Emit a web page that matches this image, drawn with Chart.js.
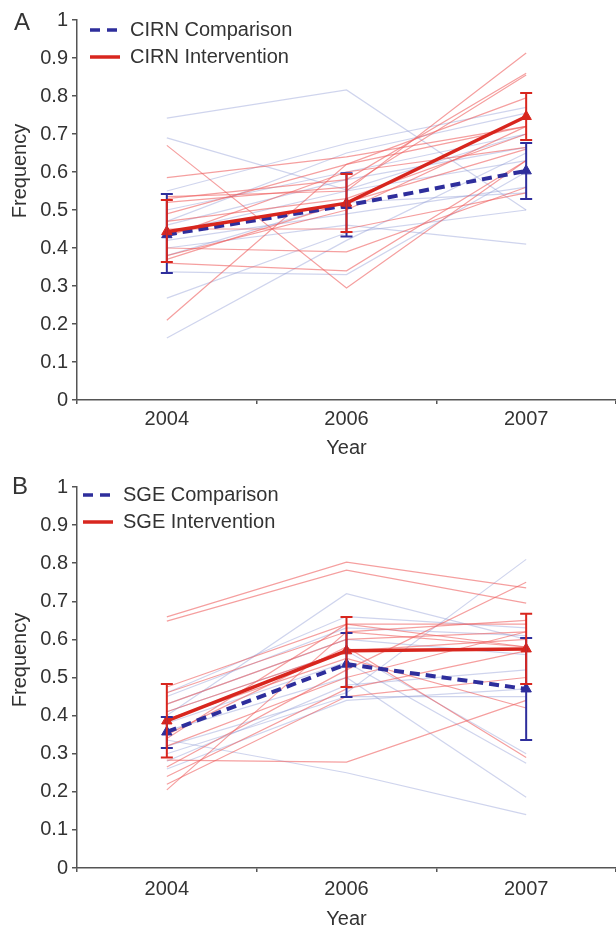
<!DOCTYPE html>
<html>
<head>
<meta charset="utf-8">
<script src="https://cdn.jsdelivr.net/npm/chart.js@4.4.1/dist/chart.umd.min.js"></script>
<style>
    body { margin: 0; overflow: hidden; background: #fff; }
    .panel { position: absolute; left: 0; }
</style>
</head>
<body>
<div class="panel" style="top:0"><canvas id="chartA" width="616" height="465"></canvas></div>
<div class="panel" style="top:463px"><canvas id="chartB" width="616" height="475"></canvas></div>
<script>
// 类别（年份）
const YEARS = ['2004', '2006', '2007'];

// A: CIRN 均值与误差线
const CIRN_COMP_MEAN = [0.435, 0.512, 0.603];
const CIRN_COMP_LOW = [0.334, 0.430, 0.529];
const CIRN_COMP_HIGH = [0.542, 0.597, 0.676];
const CIRN_INT_MEAN = [0.443, 0.518, 0.746];
const CIRN_INT_LOW = [0.363, 0.442, 0.684];
const CIRN_INT_HIGH = [0.526, 0.595, 0.808];

// A: 各单位细线
const CIRN_INT_LINES = [
    [0.67, 0.295, 0.63],
    [0.585, 0.64, 0.72],
    [0.535, 0.55, 0.913],
    [0.53, 0.58, 0.86],
    [0.52, 0.56, 0.855],
    [0.49, 0.62, 0.795],
    [0.47, 0.53, 0.70],
    [0.43, 0.60, 0.665],
    [0.40, 0.39, 0.56],
    [0.38, 0.50, 0.72],
    [0.36, 0.34, 0.63],
    [0.21, 0.62, 0.72],
    [0.45, 0.45, 0.545],
    [0.37, 0.52, 0.66]
];
const CIRN_COMP_LINES = [
    [0.742, 0.816, 0.50],
    [0.69, 0.553, 0.70],
    [0.55, 0.675, 0.77],
    [0.47, 0.65, 0.755],
    [0.46, 0.58, 0.665],
    [0.44, 0.55, 0.63],
    [0.42, 0.49, 0.56],
    [0.40, 0.46, 0.41],
    [0.38, 0.52, 0.545],
    [0.337, 0.33, 0.60],
    [0.268, 0.44, 0.50],
    [0.163, 0.42, 0.65],
    [0.50, 0.60, 0.70]
];

// B: SGE 均值与误差线
const SGE_COMP_MEAN = [0.357, 0.535, 0.470];
const SGE_COMP_LOW = [0.315, 0.449, 0.336];
const SGE_COMP_HIGH = [0.396, 0.617, 0.604];
const SGE_INT_MEAN = [0.386, 0.570, 0.575];
const SGE_INT_LOW = [0.290, 0.475, 0.483];
const SGE_INT_HIGH = [0.483, 0.659, 0.667];

// B: 各单位细线
const SGE_INT_LINES = [
    [0.659, 0.803, 0.735],
    [0.648, 0.782, 0.695],
    [0.475, 0.64, 0.64],
    [0.46, 0.62, 0.65],
    [0.43, 0.60, 0.62],
    [0.41, 0.57, 0.60],
    [0.39, 0.55, 0.42],
    [0.35, 0.58, 0.29],
    [0.32, 0.50, 0.62],
    [0.283, 0.278, 0.44],
    [0.265, 0.52, 0.75],
    [0.24, 0.47, 0.57],
    [0.22, 0.45, 0.50],
    [0.205, 0.62, 0.58],
    [0.34, 0.64, 0.58]
];
const SGE_COMP_LINES = [
    [0.40, 0.72, 0.60],
    [0.46, 0.66, 0.63],
    [0.45, 0.63, 0.61],
    [0.43, 0.60, 0.56],
    [0.41, 0.57, 0.30],
    [0.38, 0.54, 0.275],
    [0.36, 0.50, 0.186],
    [0.336, 0.25, 0.14],
    [0.32, 0.46, 0.81],
    [0.30, 0.45, 0.45],
    [0.28, 0.48, 0.52],
    [0.26, 0.44, 0.47]
];

// 颜色
const RED = '#d8261e';
const BLUE = '#2e2e9c';
const RED_LIGHT = 'rgba(238, 95, 95, 0.6)';
const BLUE_LIGHT = 'rgba(140, 152, 212, 0.42)';
const AXIS = '#555';
const FONT = "'Liberation Sans', Arial, sans-serif";

Chart.defaults.font.family = FONT;
Chart.defaults.font.size = 20;
Chart.defaults.color = '#333';

// 误差线、图例、标签
const panelDecor = {
    id: 'panelDecor',
    afterDatasetsDraw(chart, args, opts) {
        const ctx = chart.ctx;
        const xs = chart.scales.x;
        const ys = chart.scales.y;
        opts.bars.forEach(bar => {
            ctx.save();
            ctx.strokeStyle = bar.color;
            ctx.lineWidth = 2;
            bar.low.forEach((lo, i) => {
                const px = xs.getPixelForValue(i);
                const y1 = ys.getPixelForValue(lo);
                const y2 = ys.getPixelForValue(bar.high[i]);
                ctx.beginPath();
                ctx.moveTo(px, y1);
                ctx.lineTo(px, y2);
                ctx.moveTo(px - 6, y1);
                ctx.lineTo(px + 6, y1);
                ctx.moveTo(px - 6, y2);
                ctx.lineTo(px + 6, y2);
                ctx.stroke();
            });
            ctx.restore();
        });
    },
    afterDraw(chart, args, opts) {
        const ctx = chart.ctx;
        ctx.save();
        ctx.fillStyle = '#333';
        ctx.textBaseline = 'middle';

        // 面板字母
        ctx.font = `24px ${FONT}`;
        ctx.textAlign = 'center';
        ctx.fillText(opts.letter, opts.letterX, opts.letterY);

        // Y轴标题
        ctx.font = `20px ${FONT}`;
        ctx.save();
        ctx.translate(20, opts.titleY);
        ctx.rotate(-Math.PI / 2);
        ctx.fillText('Frequency', 0, 0);
        ctx.restore();

        // 图例
        ctx.textAlign = 'left';
        opts.legend.forEach((item, i) => {
            const y = opts.legendY + i * 27;
            ctx.save();
            ctx.strokeStyle = item.color;
            ctx.lineWidth = 3.5;
            ctx.setLineDash(item.dash);
            ctx.beginPath();
            ctx.moveTo(opts.legendX, y);
            ctx.lineTo(opts.legendX + 30, y);
            ctx.stroke();
            ctx.restore();
            ctx.fillText(item.text, opts.legendX + 40, y);
        });
        ctx.restore();
    }
};

// 细线数据集
function thinLine(values, color) {
    return {
        data: values,
        borderColor: color,
        borderWidth: 1.2,
        pointRadius: 0,
        tension: 0
    };
}

// 构建数据集（索引越小越靠上）
function buildDatasets(intMean, compMean, intLines, compLines) {
    const datasets = [
        {
            data: intMean,
            borderColor: RED,
            backgroundColor: RED,
            borderWidth: 3.5,
            pointStyle: 'triangle',
            pointRadius: 6,
            pointBorderWidth: 1,
            tension: 0
        },
        {
            data: compMean,
            borderColor: BLUE,
            backgroundColor: BLUE,
            borderWidth: 4,
            borderDash: [10, 6],
            pointStyle: 'triangle',
            pointRadius: 6,
            pointBorderWidth: 1,
            tension: 0
        }
    ];
    intLines.forEach(v => datasets.push(thinLine(v, RED_LIGHT)));
    compLines.forEach(v => datasets.push(thinLine(v, BLUE_LIGHT)));
    return datasets;
}

// 创建面板
function makePanel(canvasId, cfg) {
    const ctx = document.getElementById(canvasId).getContext('2d');
    return new Chart(ctx, {
        type: 'line',
        data: {
            labels: YEARS,
            datasets: buildDatasets(cfg.intMean, cfg.compMean, cfg.intLines, cfg.compLines)
        },
        options: {
            responsive: false,
            animation: false,
            layout: {
                autoPadding: false,
                padding: { top: cfg.top, left: 0, right: 0, bottom: 0 }
            },
            plugins: {
                legend: { display: false },
                tooltip: { enabled: false },
                panelDecor: {
                    bars: [
                        { low: cfg.compLow, high: cfg.compHigh, color: BLUE },
                        { low: cfg.intLow, high: cfg.intHigh, color: RED }
                    ],
                    letter: cfg.letter,
                    letterX: cfg.letterX,
                    letterY: cfg.letterY,
                    titleY: cfg.titleY,
                    legendX: cfg.legendX,
                    legendY: cfg.legendY,
                    legend: [
                        { text: cfg.compName, color: BLUE, dash: [10, 7] },
                        { text: cfg.intName, color: RED, dash: [] }
                    ]
                }
            },
            scales: {
                x: {
                    type: 'category',
                    offset: true,
                    grid: {
                        offset: true,
                        drawOnChartArea: false,
                        tickLength: 4,
                        color: AXIS,
                        lineWidth: 1.5
                    },
                    border: { color: AXIS, width: 1.5 },
                    ticks: { padding: cfg.tickPad, color: '#333' },
                    title: {
                        display: true,
                        text: 'Year',
                        color: '#333',
                        padding: { top: 0, bottom: cfg.yearPad }
                    },
                    afterFit: s => { s.height = cfg.xHeight; }
                },
                y: {
                    min: 0,
                    max: 1,
                    grid: {
                        drawOnChartArea: false,
                        tickLength: 5,
                        color: AXIS,
                        lineWidth: 1.5
                    },
                    border: { color: AXIS, width: 1.5 },
                    ticks: {
                        stepSize: 0.1,
                        padding: 4,
                        color: '#333',
                        callback: v => String(Math.round(v * 10) / 10)
                    },
                    afterFit: s => { s.width = 77; }
                }
            }
        },
        plugins: [panelDecor]
    });
}

document.addEventListener('DOMContentLoaded', () => {
    makePanel('chartA', {
        intMean: CIRN_INT_MEAN, intLow: CIRN_INT_LOW, intHigh: CIRN_INT_HIGH,
        compMean: CIRN_COMP_MEAN, compLow: CIRN_COMP_LOW, compHigh: CIRN_COMP_HIGH,
        intLines: CIRN_INT_LINES, compLines: CIRN_COMP_LINES,
        compName: 'CIRN Comparison', intName: 'CIRN Intervention',
        letter: 'A', letterX: 22, letterY: 23, titleY: 171,
        legendX: 90, legendY: 30,
        top: 20, xHeight: 65, tickPad: 3, yearPad: 5
    });
    makePanel('chartB', {
        intMean: SGE_INT_MEAN, intLow: SGE_INT_LOW, intHigh: SGE_INT_HIGH,
        compMean: SGE_COMP_MEAN, compLow: SGE_COMP_LOW, compHigh: SGE_COMP_HIGH,
        intLines: SGE_INT_LINES, compLines: SGE_COMP_LINES,
        compName: 'SGE Comparison', intName: 'SGE Intervention',
        letter: 'B', letterX: 20, letterY: 24, titleY: 197,
        legendX: 83, legendY: 32,
        top: 24, xHeight: 70, tickPad: 5, yearPad: 7
    });
});
</script>
</body>
</html>
